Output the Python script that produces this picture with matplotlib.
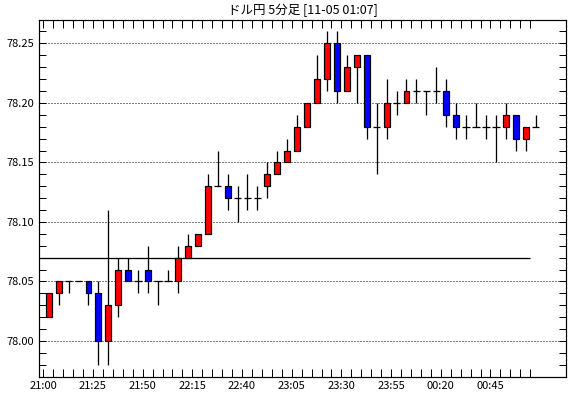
import numpy as np
import matplotlib
matplotlib.use("Agg")
import matplotlib.pyplot as plt

plt.rcParams['font.family'] = ['Noto Sans CJK JP', 'DejaVu Sans']

# 5-min candles, 21:00 .. 01:05
opens = [78.02, 78.04, 78.05, 78.05, 78.05, 78.04, 78.00, 78.03, 78.06, 78.05,
         78.06, 78.05, 78.05, 78.05, 78.07, 78.08, 78.09, 78.13, 78.13, 78.12,
         78.12, 78.12, 78.13, 78.14, 78.15, 78.16, 78.18, 78.20, 78.22, 78.25,
         78.21, 78.23, 78.24, 78.18, 78.18, 78.20, 78.20, 78.21, 78.21, 78.21,
         78.21, 78.19, 78.18, 78.18, 78.18, 78.18, 78.18, 78.19, 78.17, 78.18]
highs = [78.04, 78.05, 78.05, 78.05, 78.05, 78.05, 78.11, 78.07, 78.07, 78.06,
         78.08, 78.05, 78.06, 78.08, 78.09, 78.09, 78.14, 78.16, 78.14, 78.13,
         78.14, 78.13, 78.15, 78.16, 78.17, 78.19, 78.20, 78.24, 78.26, 78.26,
         78.24, 78.24, 78.24, 78.20, 78.22, 78.21, 78.22, 78.22, 78.21, 78.23,
         78.22, 78.20, 78.19, 78.20, 78.19, 78.19, 78.20, 78.19, 78.18, 78.19]
lows = [78.02, 78.03, 78.04, 78.05, 78.03, 77.98, 77.98, 78.02, 78.05, 78.04,
        78.04, 78.03, 78.05, 78.04, 78.07, 78.08, 78.09, 78.13, 78.11, 78.10,
        78.11, 78.11, 78.12, 78.14, 78.15, 78.16, 78.18, 78.20, 78.21, 78.20,
        78.21, 78.20, 78.17, 78.14, 78.17, 78.19, 78.20, 78.20, 78.19, 78.20,
        78.18, 78.17, 78.17, 78.18, 78.17, 78.15, 78.17, 78.16, 78.16, 78.18]
closes = [78.04, 78.05, 78.05, 78.05, 78.04, 78.00, 78.03, 78.06, 78.05, 78.05,
          78.05, 78.05, 78.05, 78.07, 78.08, 78.09, 78.13, 78.13, 78.12, 78.12,
          78.12, 78.12, 78.14, 78.15, 78.16, 78.18, 78.20, 78.22, 78.25, 78.21,
          78.23, 78.24, 78.18, 78.18, 78.20, 78.20, 78.21, 78.21, 78.21, 78.21,
          78.19, 78.18, 78.18, 78.18, 78.18, 78.18, 78.19, 78.17, 78.18, 78.18]
time_labels = ["21:00", "21:25", "21:50", "22:15", "22:40",
               "23:05", "23:30", "23:55", "00:20", "00:45"]
ref_price = 78.07
title = "ドル円 5分足 [11-05 01:07]"

o = np.array(opens)
h = np.array(highs)
l = np.array(lows)
c = np.array(closes)
x = np.arange(len(o))

fig = plt.figure(figsize=(5.7, 3.98), dpi=100)
ax = fig.add_axes([39.5 / 570, 1 - 377 / 398, 526 / 570, 357 / 398])

px = 72 / 100  # one pixel in points

# grid
for yv in [78.00, 78.05, 78.10, 78.15, 78.20, 78.25]:
    ax.axhline(yv, color='black', lw=px, ls=(0, (1, 2)), zorder=1)

# reference line
tick_off = 0.55
ax.hlines(ref_price, -1, x[-1] - tick_off, color='black', lw=1.3 * px, zorder=2)

# wicks
ax.vlines(x, l, h, color='black', lw=1.3 * px, zorder=3)

# bodies
up = c > o
down = c < o
flat = c == o
ax.bar(x[up], c[up] - o[up], bottom=o[up], width=0.6, color='#ff0000',
       edgecolor='black', linewidth=1.2 * px, zorder=4)
ax.bar(x[down], o[down] - c[down], bottom=c[down], width=0.6, color='#0000ff',
       edgecolor='black', linewidth=1.2 * px, zorder=4)
ax.hlines(c[flat], x[flat] - 0.38, x[flat] + 0.38, color='black', lw=1.3 * px, zorder=4)

ax.set_xlim(-0.93, 52.0)
ax.set_ylim(77.9698, 78.2696)

# x ticks
ax.set_xticks(x - tick_off, minor=True)
ax.set_xticks(x[::5] - tick_off)
ax.set_xticklabels(time_labels)
ax.tick_params(axis='x', which='both', direction='in', top=True, bottom=True,
               length=6, width=px, pad=3, labelsize=8)

# y ticks
ax.set_yticks([78.00, 78.05, 78.10, 78.15, 78.20, 78.25])
ax.set_yticklabels(["78.00", "78.05", "78.10", "78.15", "78.20", "78.25"])
ax.set_yticks(np.arange(77.97, 78.27, 0.01), minor=True)
ax.tick_params(axis='y', which='both', direction='in', left=True, right=True,
               length=5, width=px, pad=4, labelsize=8)

for s in ax.spines.values():
    s.set_linewidth(1.2 * px)
    s.set_color('black')

fig.text(302.5 / 570, 1 - 10 / 398, title, ha='center', va='center', fontsize=9)

fig.savefig("out.png", dpi=100)
